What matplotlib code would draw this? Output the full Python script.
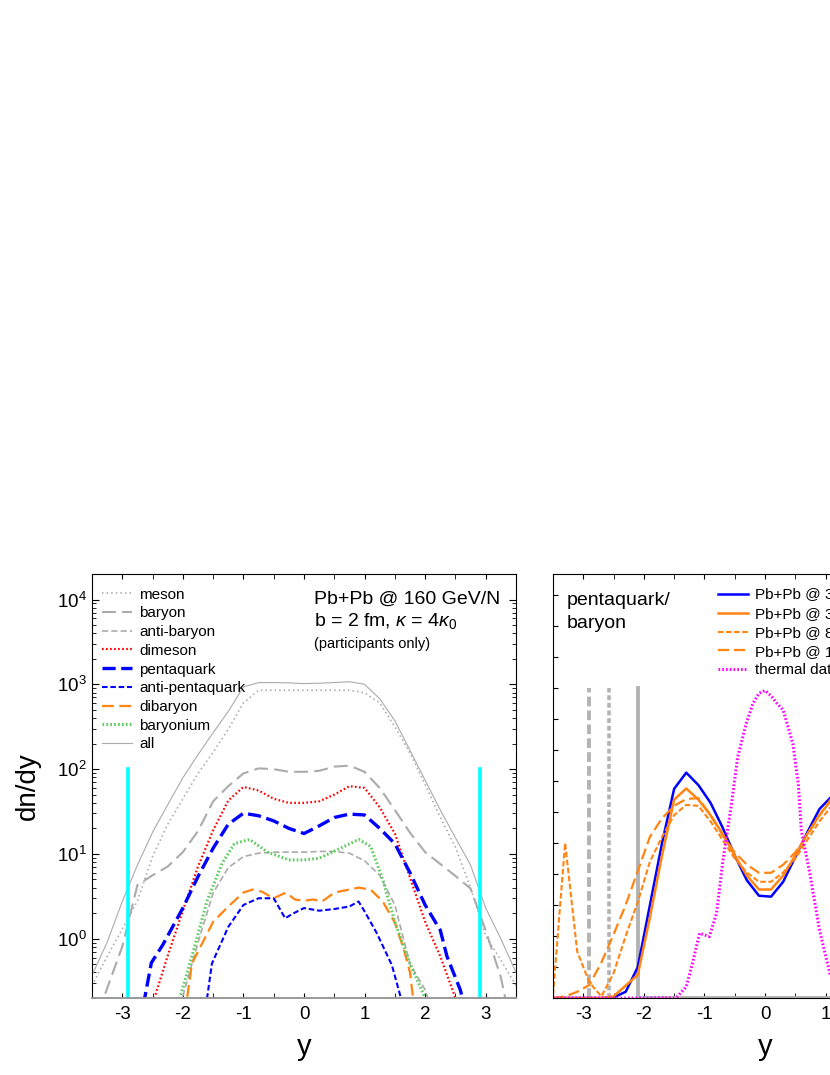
import numpy as np
import matplotlib
matplotlib.use("Agg")
import matplotlib.pyplot as plt
from matplotlib.ticker import LogLocator, NullFormatter, MultipleLocator, NullLocator

plt.rcParams['font.family'] = ['Liberation Sans', 'DejaVu Sans']
plt.rcParams['mathtext.fontset'] = 'custom'
plt.rcParams['mathtext.rm'] = 'Liberation Sans'
plt.rcParams['mathtext.it'] = 'Liberation Sans:italic'
plt.rcParams['lines.scale_dashes'] = False
plt.rcParams['axes.unicode_minus'] = False

# ---- left panel: dn/dy vs y (Pb+Pb @ 160 GeV/N) ----
y_grid = [-3.5, -3.25, -3.0, -2.75, -2.5, -2.25, -2.0, -1.75, -1.5, -1.25, -1.0, -0.75, -0.5, -0.25,
          0.0, 0.25, 0.5, 0.75, 1.0, 1.25, 1.5, 1.75, 2.0, 2.25, 2.5, 2.75, 3.0, 3.25, 3.5]
meson = [0.28, 0.62, 1.3, 2.8, 9.3, 22.4, 44.7, 89, 158, 295, 603, 851, 851, 851,
         851, 851, 851, 851, 794, 603, 316, 155, 66, 27, 12, 4.0, 1.07, 0.56, 0.28]
baryon = [0.08, 0.26, 0.81, 4.3, 5.6, 7.1, 10.5, 18.6, 41.7, 63, 89, 102, 100, 93,
          93, 95.5, 107, 110, 93, 60, 33, 17.8, 10.5, 7.6, 5.5, 3.9, 1.25, 0.35, 0.05]
all_had = [0.37, 0.91, 2.75, 7.4, 18, 38, 79, 148, 269, 479, 933, 1047, 1050, 1040,
           1020, 1030, 1050, 1072, 1000, 676, 372, 166, 74, 33, 15.5, 7.4, 2.3, 1.0, 0.4]

antibaryon_y = [-2.1, -2.0, -1.75, -1.5, -1.25, -1.0, -0.75, -0.5, -0.25, 0.0, 0.25, 0.5, 0.75,
                1.0, 1.25, 1.5, 1.75, 2.0, 2.1]
antibaryon = [0.13, 0.21, 0.9, 3.47, 6.9, 9.3, 10.2, 10.5, 10.5, 10.5, 10.7, 10.7, 10.2,
              8.3, 5.6, 2.5, 0.5, 0.25, 0.15]

dimeson_y = [-2.55, -2.5, -2.25, -2.0, -1.75, -1.5, -1.25, -1.0, -0.75, -0.5, -0.25, 0.0, 0.25,
             0.5, 0.75, 1.0, 1.25, 1.5, 1.75, 2.0, 2.25, 2.5, 2.55]
dimeson = [0.13, 0.17, 0.63, 2.14, 7.1, 19, 42.7, 61.7, 56, 44.7, 40, 40, 41.7,
           50, 63, 60, 35.5, 17.4, 5.25, 1.58, 0.62, 0.2, 0.16]

penta_y = [-2.7, -2.63, -2.52, -2.33, -2.0, -1.75, -1.5, -1.25, -1.0, -0.75, -0.5, -0.25, 0.0,
           0.25, 0.5, 0.75, 1.0, 1.25, 1.5, 1.75, 2.0, 2.25, 2.36, 2.58, 2.65]
penta = [0.1, 0.2, 0.52, 0.85, 2.3, 5.4, 11.7, 22.4, 30.2, 28.2, 24.5, 20, 17.4,
         21.4, 26.9, 29.5, 28.8, 20, 13.2, 6.0, 2.5, 1.26, 0.62, 0.25, 0.16]

antipenta_y = [-1.65, -1.6, -1.52, -1.25, -1.0, -0.75, -0.5, -0.31, -0.2, 0.0, 0.25, 0.5, 0.75,
               0.9, 1.0, 1.2, 1.45, 1.6, 1.65]
antipenta = [0.1, 0.2, 0.51, 1.38, 2.5, 3.0, 3.0, 1.74, 1.95, 2.3, 2.14, 2.24, 2.4,
             2.75, 2.1, 1.17, 0.49, 0.2, 0.13]

dibaryon_y = [-1.98, -1.93, -1.85, -1.5, -1.25, -1.0, -0.85, -0.7, -0.5, -0.3, -0.15, 0.0, 0.15,
              0.3, 0.5, 0.9, 1.1, 1.3, 1.5, 1.65, 1.75, 1.8, 1.85]
dibaryon = [0.13, 0.2, 0.51, 1.58, 2.4, 3.5, 3.8, 3.6, 3.0, 3.5, 2.9, 2.8, 2.9,
            2.75, 3.5, 4.0, 3.8, 2.75, 1.55, 0.74, 0.4, 0.2, 0.14]

baryonium_y = [-2.1, -2.05, -1.85, -1.6, -1.35, -1.15, -0.9, -0.6, -0.25, 0.0, 0.25, 0.55, 0.9,
               1.1, 1.3, 1.5, 1.75, 2.0, 2.05]
baryonium = [0.13, 0.2, 0.62, 2.8, 7.8, 13.2, 14.8, 10.5, 8.5, 8.5, 8.9, 11.2, 14.8,
             12.3, 5.0, 1.58, 0.51, 0.2, 0.16]

y_beam_160 = 2.91          # cyan markers
beam_mark_top = 100.0

# ---- right panel: pentaquark/baryon ratio (arb. units) ----
r_grid = [-3.5, -3.3, -3.1, -2.9, -2.7, -2.5, -2.3, -2.1, -1.9, -1.7, -1.5, -1.3, -1.1, -0.9,
          -0.7, -0.5, -0.3, -0.1, 0.1, 0.3, 0.5, 0.7, 0.9, 1.1, 1.3, 1.5, 1.7, 1.9,
          2.1, 2.3, 2.5, 2.7, 2.9, 3.1, 3.3, 3.5]
ratio_30a = [0, 0, 0, 0, 0, 0.02, 0.2, 1.0, 3.0, 5.0, 6.75, 7.27, 6.87, 6.3,
             5.5, 4.6, 3.8, 3.3, 3.27, 3.75, 4.55, 5.35, 6.1, 6.5, 7.1, 6.7, 5.0, 3.0,
             1.0, 0.2, 0.02, 0, 0, 0, 0, 0]
ratio_30b = [0, 0, 0, 0, 0, 0.05, 0.4, 0.75, 2.6, 4.6, 6.4, 6.76, 6.4, 5.9,
             5.3, 4.6, 3.95, 3.5, 3.5, 3.95, 4.6, 5.3, 5.9, 6.4, 6.76, 6.4, 4.6, 2.6,
             0.75, 0.4, 0.05, 0, 0, 0, 0, 0]
ratio_80 = [0.1, 5.0, 1.5, 0.5, 0.05, 0.8, 2.0, 3.1, 4.4, 5.2, 5.9, 6.23, 6.2, 5.7,
            5.1, 4.5, 4.05, 3.75, 3.75, 4.05, 4.5, 5.1, 5.7, 6.2, 6.23, 5.9, 5.2, 4.4,
            3.1, 2.0, 0.8, 0.05, 0.5, 1.5, 5.0, 0.1]
ratio_160 = [0, 0.05, 0.2, 0.42, 1.15, 2.05, 3.0, 4.1, 5.2, 5.8, 6.2, 6.42, 6.45, 5.9,
             5.25, 4.7, 4.3, 4.04, 4.04, 4.3, 4.7, 5.25, 5.9, 6.45, 6.42, 6.2, 5.8, 5.2,
             4.1, 3.0, 2.05, 1.15, 0.42, 0.2, 0.05, 0]

thermal_y = [-3.5, -1.5, -1.45, -1.3, -1.2, -1.08, -0.92, -0.8, -0.7, -0.64, -0.56, -0.45, -0.31,
             -0.2, -0.1, 0.0, 0.1, 0.2, 0.3, 0.46, 0.55, 0.6, 0.74, 0.9, 1.07, 1.2, 1.3, 1.5, 3.5]
thermal = [0, 0, 0.04, 0.36, 1.1, 2.09, 1.98, 2.73, 4.35, 5.15, 6.17, 7.78, 8.86,
           9.5, 9.83, 9.92, 9.75, 9.5, 9.29, 8.2, 6.9, 5.4, 4.02, 2.19, 0.8, 0.3, 0.1, 0, 0]

beam_rap = [2.91, 2.58, 2.09]      # 160, 80, 30 GeV/N
beam_line_top = 10.0

grey = '#ababab'
orange = '#ff8412'

fig = plt.figure(figsize=(8.3, 10.75))
axL = fig.add_axes([92/830, 77/1075, 424/830, 424/1075])
axR = fig.add_axes([553/830, 77/1075, 424/830, 424/1075])

# left panel curves
axL.plot(y_grid, meson, color=grey, lw=1.2, dashes=(1.1, 2.2), label='meson')
axL.plot(y_grid, baryon, color=grey, lw=1.5, dashes=(10, 4.5), label='baryon')
axL.plot(antibaryon_y, antibaryon, color=grey, lw=1.2, dashes=(4.5, 2.2), label='anti-baryon')
axL.plot(dimeson_y, dimeson, color='red', lw=1.6, dashes=(1.2, 1.7), label='dimeson')
axL.plot(penta_y, penta, color='blue', lw=2.4, dashes=(9.5, 4), label='pentaquark')
axL.plot(antipenta_y, antipenta, color='blue', lw=1.5, dashes=(4, 2), label='anti-pentaquark')
axL.plot(dibaryon_y, dibaryon, color=orange, lw=1.6, dashes=(8.5, 4), label='dibaryon')
axL.plot(baryonium_y, baryonium, color='#5ecb5e', lw=2.2, dashes=(1.2, 1.6), label='baryonium')
axL.plot(y_grid, all_had, color=grey, lw=0.8, label='all')
for yb in (-y_beam_160, y_beam_160):
    axL.plot([yb, yb], [0.2, beam_mark_top], color='cyan', lw=2.6)

axL.set_yscale('log')
axL.set_xlim(-3.5, 3.5)
axL.set_ylim(0.2, 2e4)
axL.xaxis.set_major_locator(MultipleLocator(1))
axL.xaxis.set_minor_locator(MultipleLocator(0.5))
axL.yaxis.set_major_locator(LogLocator(base=10))
axL.yaxis.set_minor_locator(LogLocator(base=10, subs=np.arange(2, 10)))
axL.yaxis.set_minor_formatter(NullFormatter())
axL.tick_params(which='both', direction='in', top=True, right=True, labelsize=13.5)
axL.tick_params(axis='x', which='both', length=3.6, pad=6)
axL.tick_params(axis='y', which='major', length=5, pad=4)
axL.tick_params(axis='y', which='minor', length=2.8)
axL.spines['bottom'].set_color('#999999')
axL.spines['bottom'].set_linewidth(1.4)

axL.set_xlabel('y', fontsize=21)
axL.xaxis.label.set_va('baseline')
axL.xaxis.set_label_coords(0.5, -0.134)
axL.set_ylabel('dn/dy', fontsize=20)
axL.yaxis.label.set_va('center')
axL.yaxis.set_label_coords(-0.151, 0.5)

axL.legend(loc='upper left', bbox_to_anchor=(0.0236, 0.968), frameon=False, fontsize=11,
           handlelength=1.96, handletextpad=0.46, labelspacing=0.31, borderpad=0,
           borderaxespad=0)
axL.text(0.5236, 0.929, 'Pb+Pb @ 160 GeV/N', transform=axL.transAxes, fontsize=14,
         va='baseline')
axL.text(0.5236, 0.877, r'b = 2 fm, $\kappa$ = 4$\kappa_0$', transform=axL.transAxes,
         fontsize=14, va='baseline')
axL.text(0.5236, 0.825, '(participants only)', transform=axL.transAxes, fontsize=10.5,
         va='baseline')

# right panel
axR.plot([-beam_rap[0]] * 2, [0, beam_line_top], color='#b3b3b3', lw=2.8, dashes=(7, 3))
axR.plot([-beam_rap[1]] * 2, [0, beam_line_top], color='#b3b3b3', lw=2.6, dashes=(3.5, 2))
axR.plot([-beam_rap[2], -beam_rap[2], beam_rap[2], beam_rap[2]],
         [beam_line_top, 0, 0, beam_line_top], color='#b3b3b3', lw=2.8)
axR.plot(r_grid, ratio_30a, color='blue', lw=1.8, label='Pb+Pb @ 30 GeV/N, b = 2 fm')
axR.plot(r_grid, ratio_30b, color=orange, lw=1.8, label='Pb+Pb @ 30 GeV/N')
axR.plot(r_grid, ratio_80, color=orange, lw=1.5, dashes=(4, 1.8), label='Pb+Pb @ 80 GeV/N')
axR.plot(r_grid, ratio_160, color=orange, lw=1.6, dashes=(8, 3.5), label='Pb+Pb @ 160 GeV/N')
axR.plot(thermal_y, thermal, color='magenta', lw=2.2, dashes=(1.2, 1.5), label='thermal data')

axR.set_xlim(-3.5, 3.5)
axR.set_ylim(0, 13.68)
axR.xaxis.set_major_locator(MultipleLocator(1))
axR.xaxis.set_minor_locator(MultipleLocator(0.5))
axR.yaxis.set_major_locator(MultipleLocator(1))
axR.yaxis.set_minor_locator(NullLocator())
axR.tick_params(which='both', direction='in', top=True, right=True, labelsize=13.5,
                labelleft=False, length=3.6)
axR.tick_params(axis='x', pad=6)
axR.set_xlabel('y', fontsize=21)
axR.xaxis.label.set_va('baseline')
axR.xaxis.set_label_coords(0.5, -0.134)
axR.legend(loc='upper left', bbox_to_anchor=(0.389, 0.966), frameon=False, fontsize=11,
           handlelength=1.96, handletextpad=0.46, labelspacing=0.31, borderpad=0,
           borderaxespad=0)
axR.text(0.032, 0.927, 'pentaquark/', transform=axR.transAxes, fontsize=14, va='baseline')
axR.text(0.032, 0.873, 'baryon', transform=axR.transAxes, fontsize=14, va='baseline')

fig.savefig('out.png', dpi=100)
